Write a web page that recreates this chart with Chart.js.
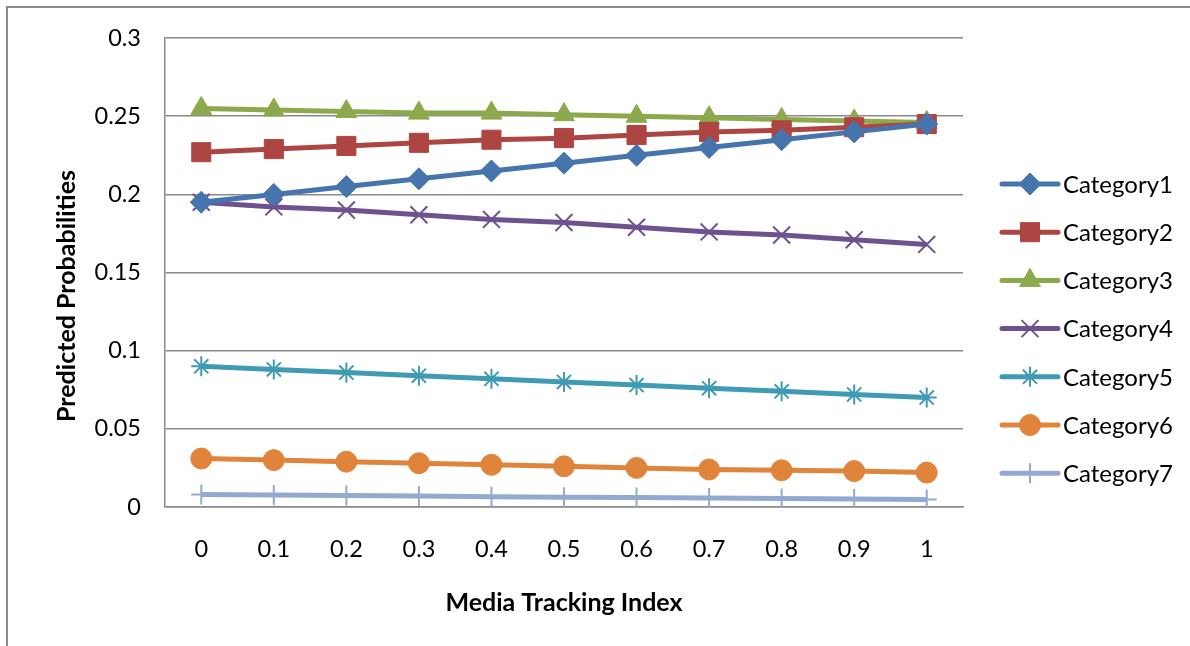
<!DOCTYPE html>
<html>
<head>
<meta charset="utf-8">
<script src="https://cdn.jsdelivr.net/npm/chart.js@4/dist/chart.umd.min.js"></script>
<style>
  html, body { margin: 0; padding: 0; background: #fff; }
  #wrap { width: 1190px; height: 646px; position: relative; }
</style>
</head>
<body>
<div id="wrap"><canvas id="chart" width="1190" height="646"></canvas></div>
<script>
// Chart data
const xLabels = ['0', '0.1', '0.2', '0.3', '0.4', '0.5', '0.6', '0.7', '0.8', '0.9', '1'];
const seriesNames = ['Category1', 'Category2', 'Category3', 'Category4', 'Category5', 'Category6', 'Category7'];
const category1 = [0.195, 0.200, 0.205, 0.210, 0.215, 0.220, 0.225, 0.230, 0.235, 0.240, 0.245];
const category2 = [0.227, 0.229, 0.231, 0.233, 0.235, 0.236, 0.238, 0.240, 0.241, 0.243, 0.245];
const category3 = [0.255, 0.254, 0.253, 0.252, 0.252, 0.251, 0.250, 0.249, 0.248, 0.247, 0.246];
const category4 = [0.195, 0.192, 0.190, 0.187, 0.184, 0.182, 0.179, 0.176, 0.174, 0.171, 0.168];
const category5 = [0.090, 0.088, 0.086, 0.084, 0.082, 0.080, 0.078, 0.076, 0.074, 0.072, 0.070];
const category6 = [0.031, 0.030, 0.029, 0.028, 0.027, 0.026, 0.025, 0.024, 0.0235, 0.023, 0.022];
const category7 = [0.008, 0.0077, 0.0073, 0.007, 0.0066, 0.0063, 0.006, 0.0057, 0.0054, 0.0051, 0.0048];
const yTicks = [0, 0.05, 0.1, 0.15, 0.2, 0.25, 0.3];
const yTitle = 'Predicted Probabilities';
const xTitle = 'Media Tracking Index';

const FONT = 'Lato, "Open Sans", sans-serif';

// styles per series
const colors = ['#4674AD', '#AD4643', '#8CAA4B', '#6E5290', '#3F9BB3', '#E0843B', '#92A9D1'];
const markers = ['rectRot', 'rect', 'triangle', 'crossRot', 'star', 'circle', 'cross'];
const radii = [11, 13.5, 12, 12, 10, 10.5, 10];
const allData = [category1, category2, category3, category4, category5, category6, category7];

const datasets = seriesNames.map((name, i) => ({
  label: name,
  data: allData[i],
  borderColor: colors[i],
  backgroundColor: colors[i],
  borderWidth: 5,
  pointStyle: markers[i],
  pointRadius: radii[i],
  pointHoverRadius: radii[i],
  pointBackgroundColor: colors[i],
  pointBorderColor: colors[i],
  pointBorderWidth: (markers[i].startsWith('cross') || markers[i] === 'star') ? 2 : 1,
  tension: 0,
}));

// outer frame, y title and custom legend (line with marker)
const framePlugin = {
  id: 'frame',
  beforeDraw(chart) {
    const ctx = chart.ctx;
    ctx.save();
    ctx.strokeStyle = '#8a8a8a';
    ctx.lineWidth = 2;
    ctx.beginPath();
    ctx.moveTo(7, 646);
    ctx.lineTo(7, 7);
    ctx.lineTo(1190, 7);
    ctx.stroke();
    // y axis title, centred like the original (a bit below the plot centre)
    ctx.translate(67, 296);
    ctx.rotate(-Math.PI / 2);
    ctx.fillStyle = '#000';
    ctx.font = 'bold 25px ' + FONT;
    ctx.textAlign = 'center';
    ctx.textBaseline = 'middle';
    ctx.fillText(yTitle, 0, 0);
    ctx.restore();
  },
  afterDraw(chart) {
    const ctx = chart.ctx;
    const x0 = 1002, x1 = 1058, startY = 184, step = 48.2;
    ctx.save();
    chart.data.datasets.forEach((ds, i) => {
      const y = startY + i * step;
      ctx.strokeStyle = ds.borderColor;
      ctx.lineWidth = 5;
      ctx.lineCap = 'round';
      ctx.beginPath();
      ctx.moveTo(x0, y);
      ctx.lineTo(x1, y);
      ctx.stroke();
      ctx.lineCap = 'butt';
      ctx.fillStyle = ds.pointBackgroundColor;
      ctx.strokeStyle = ds.pointBorderColor;
      ctx.lineWidth = ds.pointBorderWidth;
      Chart.helpers.drawPoint(ctx, {
        pointStyle: ds.pointStyle,
        radius: ds.pointRadius,
        rotation: 0,
        borderWidth: ds.pointBorderWidth,
      }, (x0 + x1) / 2, y);
      ctx.fillStyle = '#000';
      ctx.font = '24px ' + FONT;
      ctx.textAlign = 'left';
      ctx.textBaseline = 'middle';
      ctx.fillText(ds.label, 1063, y + 1);
    });
    ctx.restore();
  }
};

new Chart(document.getElementById('chart'), {
  type: 'line',
  data: { labels: xLabels, datasets: datasets },
  plugins: [framePlugin],
  options: {
    responsive: false,
    animation: false,
    layout: { padding: { left: 0, top: 38, right: 227, bottom: 0 } },
    plugins: {
      legend: { display: false },
      tooltip: { enabled: false },
    },
    scales: {
      x: {
        type: 'category',
        offset: true,
        grid: { display: false, drawTicks: false },
        border: { display: true, color: '#8a8a8a', width: 1.5 },
        ticks: { color: '#000', font: { family: FONT, size: 23.5 }, padding: 28, maxRotation: 0 },
        title: {
          display: true,
          text: xTitle,
          color: '#000',
          font: { family: FONT, size: 25, weight: 'bold' },
          padding: { top: 0, bottom: 28 },
        },
        afterFit(scale) { scale.height = 139; },
      },
      y: {
        min: 0,
        max: 0.3,
        afterBuildTicks(scale) { scale.ticks = yTicks.map(v => ({ value: v })); },
        grid: { color: '#8a8a8a', lineWidth: 1.5, drawTicks: false },
        border: { display: true, color: '#8a8a8a', width: 1.5 },
        ticks: {
          color: '#000',
          font: { family: FONT, size: 23.5 },
          padding: 24,
          callback: v => String(Number(v.toFixed(2))),
        },
        title: { display: false },
        afterFit(scale) { scale.width = 165; },
      },
    },
  },
});
</script>
</body>
</html>
